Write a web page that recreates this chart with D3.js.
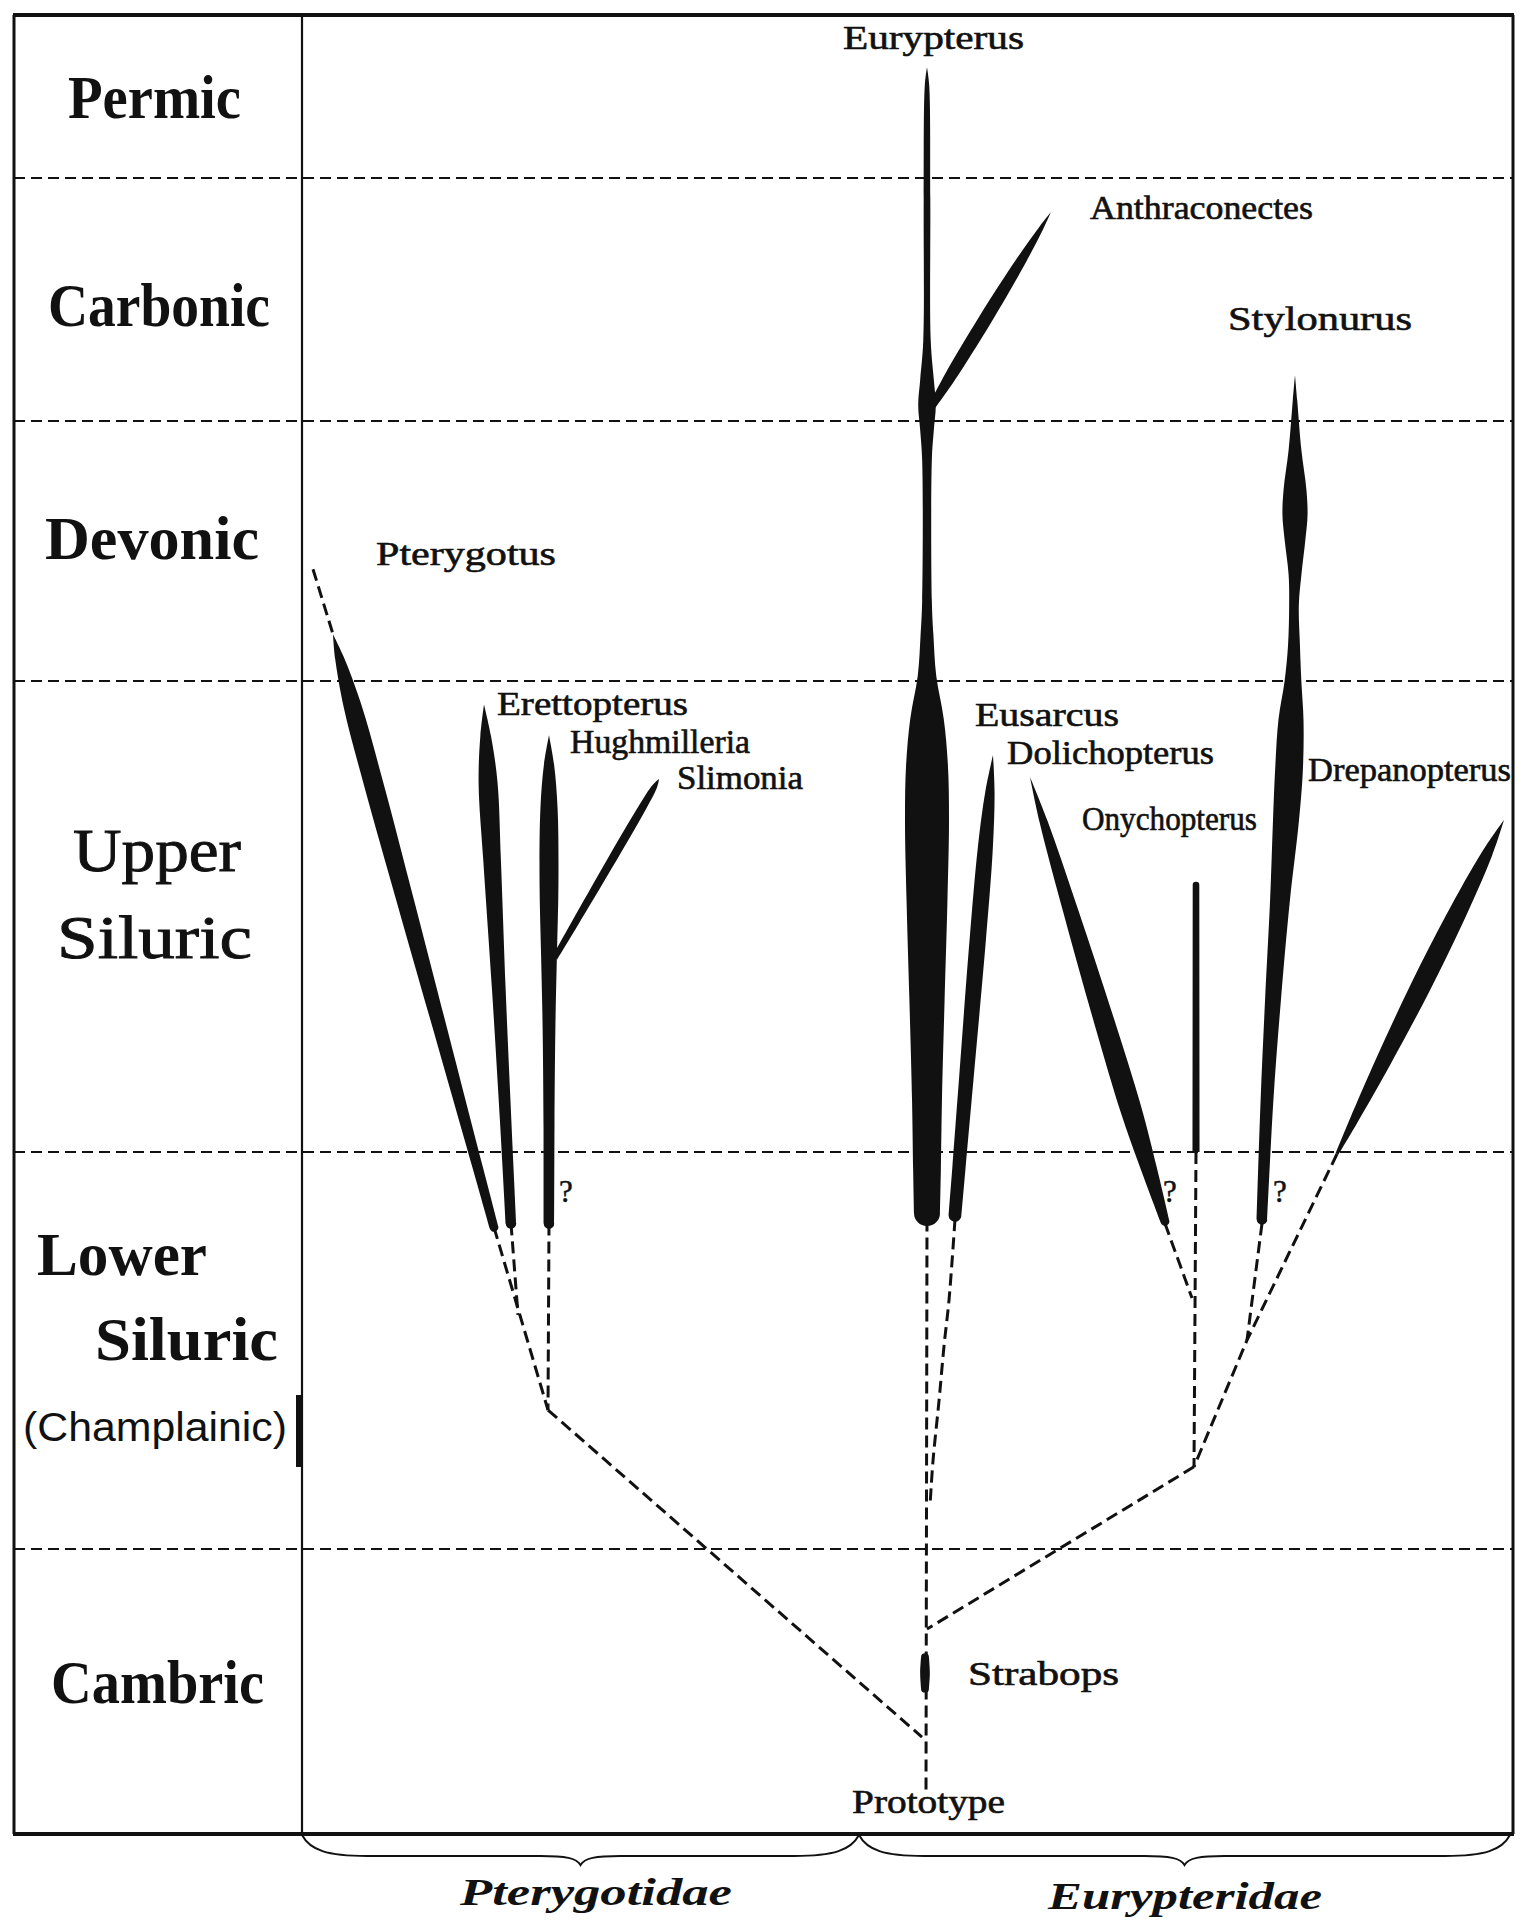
<!DOCTYPE html>
<html>
<head>
<meta charset="utf-8">
<script src="https://cdn.jsdelivr.net/npm/d3@7"></script>
<style>
  html, body { margin: 0; padding: 0; background: #fff; }
  svg { display: block; }
</style>
</head>
<body>
<svg id="chart" width="1522" height="1932"></svg>
<script>
// ------------------------------------------------------------------
// DATA  (x in lineage-position units, u in "period units": each
// geological period spans 100 units, 0 = base of Cambric)
// ------------------------------------------------------------------
const periodNames = ["Permic", "Carbonic", "Devonic", "Upper Siluric", "Lower Siluric", "Cambric"];
const periodNote = "(Champlainic)";
const periodTicks = [0, 100, 200, 300, 400, 500, 600];
const familyNames = ["Pterygotidae", "Eurypteridae"];
const familySpans = [[0, 557], [557, 1208]];

const genera = ["Eurypterus", "Anthraconectes", "Stylonurus", "Pterygotus", "Erettopterus",
  "Hughmilleria", "Slimonia", "Eusarcus", "Dolichopterus", "Onychopterus",
  "Drepanopterus", "Strabops", "Prototype"];

// straight spindles: axis from -> to, width profile [t, abundance]
const pterygotus    = { from: [31, 318],    to: [192, 181],   w: [[0,0],[0.04,2.0],[0.12,4.0],[0.25,4.4],[0.45,3.9],[0.7,3.0],[0.9,2.3],[1,2.0]], roundEnd: true };
const erettopterus  = { from: [182, 295],   to: [209, 182],   w: [[0,0],[0.06,2.4],[0.15,4.3],[0.3,4.0],[0.55,3.1],[0.8,2.6],[1,2.4]], roundEnd: true };
const hughmilleria  = { from: [247, 288.5], to: [247, 182],   w: [[0,0],[0.06,2.3],[0.15,3.9],[0.3,4.3],[0.45,3.6],[0.6,2.9],[0.8,2.5],[1,2.4]], roundEnd: true };
const slimonia      = { from: [357, 279.2], to: [253, 241.2], w: [[0,0],[0.05,1.3],[1,1.3]] };
const anthraconectes= { from: [630, 406],   to: [749, 486],   w: [[0,1.6],[0.15,2.6],[0.45,3.0],[0.75,2.2],[0.92,1.0],[1,0]] };
const eusarcus      = { from: [691, 284.3], to: [653, 184],   w: [[0,0],[0.08,2.1],[0.2,3.4],[0.4,3.7],[0.7,3.3],[0.9,3.0],[1,2.9]], roundEnd: true };
const dolichopterus = { from: [728, 279.6], to: [863, 182.5], w: [[0,0],[0.1,1.8],[0.3,3.4],[0.55,4.6],[0.75,4.8],[0.88,3.6],[1,2.0]], roundEnd: true };
const onychopterus  = { from: [894, 256.7], to: [894, 200],   w: [[0,1.5],[1,1.6]], roundStart: true };
const drepanopterus = { from: [1202, 270.5],to: [1035, 199.5],w: [[0,0],[0.1,2.4],[0.3,4.2],[0.5,4.5],[0.72,3.5],[0.9,1.9],[1,0.7]] };
const strabops      = { from: [623, 62],    to: [623, 51],    w: [[0,1.8],[0.5,2.2],[1,1.8]], roundStart: true, roundEnd: true };

// columns with changing centre: [x, u, abundance]
const eurypterusColumn = [
  [625,568,0],[625,557,1.0],[625,491,1.5],[625,433,1.7],[625,417,3.1],[625,406.6,4.0],
  [625,396.5,3.1],[625,385,2.2],[625,331,2.2],[625,318,2.9],[625,302,4.2],[625,292,7.6],
  [625,282.2,9.5],[625,270.5,10],[625,253.5,9.3],[625,232.3,8.0],[625,211,6.8],
  [625,195.5,6.3],[625,184.6,5.9]
];
const stylonurusColumn = [
  [993,418.9,0],[993,408.6,1.0],[993,388.8,2.9],[993,373.5,5.2],[993,363.8,5.7],
  [993,354.2,4.7],[993,340.8,2.9],[992,329.2,2.2],[992,313.8,2.7],[991,300,3.8],
  [989,291.7,5.7],[987,281.1,6.3],[984,270.5,5.9],[978,253.5,4.5],[971,232.3,3.6],
  [965,211,2.9],[960,183,2.4]
];

// inferred (dashed) connections
const dashedLinks = [
  [[11,343],[31,318]],
  [[192,181],[246,135]],
  [[209,182],[216,159]],
  [[247,182],[246,135]],
  [[246,135],[620,34]],
  [[625,183],[624,14]],
  [[863,182],[890,163.2]],
  [[894,200],[892,120.7]],
  [[960,182],[945,152.6]],
  [[1035,199.5],[945,152.6],[892,120.7]],
  [[892,120.7],[625,71.9]]
];
const eusarcusLink = [[653,183],[647,162.7],[642,151.1],[637,137.3],[631,122.2],[628,110.8]];
const queryMarks = ["?", "?", "?"];

// ------------------------------------------------------------------
// SCALES
// ------------------------------------------------------------------
const frame = { left: 14, right: 1513, top: 15, bottom: 1834, divider: 302 };
const xs = d3.scaleLinear().domain([0, 1211]).range([frame.divider, frame.right]);
const ys = d3.scaleLinear().domain(periodTicks).range([1834, 1549, 1152, 681, 421, 178, 15]);
const ws = d3.scaleLinear().domain([0, 10]).range([0, 44]);

const svg = d3.select("#chart");
const INK = "#111";
const SERIF = "'Liberation Serif', 'DejaVu Serif', serif";

svg.append("rect").attr("width", 1522).attr("height", 1932).attr("fill", "#fff");

// ------------------------------------------------------------------
// PERIOD GRID
// ------------------------------------------------------------------
svg.append("g").selectAll("line")
  .data(periodTicks.slice(1, 6))
  .join("line")
  .attr("x1", frame.left).attr("x2", frame.right)
  .attr("y1", d => ys(d)).attr("y2", d => ys(d))
  .attr("stroke", INK).attr("stroke-width", 2)
  .attr("stroke-dasharray", "11,6");

// frame
const fr = svg.append("g").attr("fill", "none").attr("stroke", INK);
fr.append("line").attr("x1", frame.left - 1).attr("x2", frame.right + 1).attr("y1", frame.top).attr("y2", frame.top).attr("stroke-width", 4);
fr.append("line").attr("x1", frame.left - 1).attr("x2", frame.right + 1).attr("y1", frame.bottom).attr("y2", frame.bottom).attr("stroke-width", 4);
fr.append("line").attr("x1", frame.left).attr("x2", frame.left).attr("y1", frame.top).attr("y2", frame.bottom).attr("stroke-width", 3);
fr.append("line").attr("x1", frame.right).attr("x2", frame.right).attr("y1", frame.top).attr("y2", frame.bottom).attr("stroke-width", 3);
fr.append("line").attr("x1", frame.divider).attr("x2", frame.divider).attr("y1", frame.top).attr("y2", frame.bottom).attr("stroke-width", 2.2);
svg.append("rect").attr("x", 296).attr("y", 1395).attr("width", 6).attr("height", 72).attr("fill", INK);

// ------------------------------------------------------------------
// PERIOD LABELS
// ------------------------------------------------------------------
const periodLayout = [
  { p: 0, line: 0, x: 68, y: 118, w: 173, weight: "bold" },
  { p: 1, line: 0, x: 48, y: 326, w: 222, weight: "bold" },
  { p: 2, line: 0, x: 45, y: 559, w: 214, weight: "bold" },
  { p: 3, line: 0, x: 73, y: 871, w: 168, weight: "normal" },
  { p: 3, line: 1, x: 57, y: 958, w: 195, weight: "normal" },
  { p: 4, line: 0, x: 37, y: 1275, w: 170, weight: "bold" },
  { p: 4, line: 1, x: 95, y: 1360, w: 183, weight: "bold" },
  { p: 5, line: 0, x: 51, y: 1703, w: 213, weight: "bold" }
];
svg.append("g").selectAll("text")
  .data(periodLayout)
  .join("text")
  .attr("x", d => d.x).attr("y", d => d.y)
  .attr("textLength", d => d.w).attr("lengthAdjust", "spacingAndGlyphs")
  .attr("font-family", SERIF).attr("font-size", 62)
  .attr("font-weight", d => d.weight).attr("fill", INK)
  .attr("stroke", INK).attr("stroke-width", d => d.weight === "bold" ? 0 : 0.9)
  .text(d => periodNames[d.p].split(" ")[d.line]);

svg.append("text")
  .attr("x", 23).attr("y", 1441)
  .attr("textLength", 264).attr("lengthAdjust", "spacingAndGlyphs")
  .attr("font-family", "'Liberation Sans', Arial, sans-serif")
  .attr("font-size", 40).attr("fill", INK)
  .text(periodNote);

// ------------------------------------------------------------------
// SPINDLES
// ------------------------------------------------------------------
const side = d3.line().curve(d3.curveCatmullRom.alpha(0.5));
const strip = s => s.replace(/^M[^CLZ]*/, "");

function outline(centers, roundStart, roundEnd) {
  const n = centers.length, L = [], R = [];
  centers.forEach((c, i) => {
    const a = centers[Math.max(0, i - 1)], b = centers[Math.min(n - 1, i + 1)];
    let dx = b.x - a.x, dy = b.y - a.y;
    const len = Math.hypot(dx, dy) || 1;
    dx /= len; dy /= len;
    const nx = -dy, ny = dx;
    L.push([c.x + nx * c.h, c.y + ny * c.h]);
    R.push([c.x - nx * c.h, c.y - ny * c.h]);
  });
  const h0 = centers[0].h, h1 = centers[n - 1].h;
  let d = "";
  if (roundStart && h0 > 0) d += `M${R[0]}A${h0},${h0} 0 0 0 ${L[0]}`;
  else d += `M${L[0]}`;
  d += strip(side(L));
  if (roundEnd && h1 > 0) d += `A${h1},${h1} 0 0 0 ${R[n - 1]}`;
  else d += `L${R[n - 1]}`;
  d += strip(side(R.slice().reverse()));
  return d + "Z";
}

function straightSpindle(s) {
  const x0 = xs(s.from[0]), y0 = ys(s.from[1]), x1 = xs(s.to[0]), y1 = ys(s.to[1]);
  const centers = s.w.map(([t, w]) => ({ x: x0 + t * (x1 - x0), y: y0 + t * (y1 - y0), h: ws(w) / 2 }));
  return outline(centers, s.roundStart, s.roundEnd);
}
function columnSpindle(col, roundEnd) {
  const centers = col.map(([x, u, w]) => ({ x: xs(x), y: ys(u), h: ws(w) / 2 }));
  return outline(centers, false, roundEnd);
}

// dashed links
const dashGen = d3.line().x(d => xs(d[0])).y(d => ys(d[1]));
const dashG = svg.append("g").attr("fill", "none").attr("stroke", INK)
  .attr("stroke-width", 3).attr("stroke-dasharray", "12,6");
dashG.selectAll("path").data(dashedLinks).join("path").attr("d", dashGen);
dashG.append("path").datum(eusarcusLink)
  .attr("d", d3.line().x(d => xs(d[0])).y(d => ys(d[1])).curve(d3.curveCatmullRom.alpha(0.5)));

const spG = svg.append("g").attr("fill", INK).attr("stroke", "none");
[pterygotus, erettopterus, hughmilleria, slimonia, anthraconectes, eusarcus,
 dolichopterus, onychopterus, drepanopterus, strabops].forEach(s => {
  spG.append("path").attr("d", straightSpindle(s));
});
spG.append("path").attr("d", columnSpindle(eurypterusColumn, true));
spG.append("path").attr("d", columnSpindle(stylonurusColumn, true));

// ------------------------------------------------------------------
// GENUS LABELS
// ------------------------------------------------------------------
const genusLayout = [
  [843, 49, 181], [1090, 219, 223], [1228, 330, 184], [376, 565, 180],
  [497, 715, 191], [570, 753, 180], [677, 789, 126], [975, 726, 144],
  [1007, 764, 207], [1082, 830, 175], [1308, 781, 203], [968, 1685, 151],
  [852, 1813, 153]
];
svg.append("g").selectAll("text")
  .data(genera)
  .join("text")
  .attr("x", (d, i) => genusLayout[i][0])
  .attr("y", (d, i) => genusLayout[i][1])
  .attr("textLength", (d, i) => genusLayout[i][2])
  .attr("lengthAdjust", "spacingAndGlyphs")
  .attr("font-family", SERIF).attr("font-size", 33).attr("fill", INK)
  .attr("stroke", INK).attr("stroke-width", 0.6)
  .text(d => d);

const qLayout = [[559, 1202], [1163, 1202], [1273, 1202]];
svg.append("g").selectAll("text")
  .data(queryMarks)
  .join("text")
  .attr("x", (d, i) => qLayout[i][0]).attr("y", (d, i) => qLayout[i][1])
  .attr("font-family", SERIF).attr("font-size", 31).attr("fill", INK)
  .attr("stroke", INK).attr("stroke-width", 0.5)
  .text(d => d);

// ------------------------------------------------------------------
// FAMILY BRACES
// ------------------------------------------------------------------
function bracePath(x0, x1, y0) {
  const xm = (x0 + x1) / 2, yb = y0 + 21, yc = y0 + 30, e = 40;
  return `M${x0},${y0}` +
    `C${x0 + 8},${y0 + 15} ${x0 + 25},${yb} ${x0 + e + 25},${yb}` +
    `L${xm - e},${yb}` +
    `C${xm - 15},${yb} ${xm - 4},${yb + 2} ${xm},${yc}` +
    `C${xm + 4},${yb + 2} ${xm + 15},${yb} ${xm + e},${yb}` +
    `L${x1 - e - 25},${yb}` +
    `C${x1 - 25},${yb} ${x1 - 8},${y0 + 15} ${x1},${y0}`;
}
svg.append("g").selectAll("path")
  .data(familySpans)
  .join("path")
  .attr("d", d => bracePath(xs(d[0]), xs(d[1]), frame.bottom + 1))
  .attr("fill", "none").attr("stroke", INK).attr("stroke-width", 2);

const familyLayout = [[596, 1905, 272], [1185, 1909, 274]];
svg.append("g").selectAll("text")
  .data(familyNames)
  .join("text")
  .attr("x", (d, i) => familyLayout[i][0] - familyLayout[i][2] / 2)
  .attr("y", (d, i) => familyLayout[i][1])
  .attr("textLength", (d, i) => familyLayout[i][2])
  .attr("lengthAdjust", "spacingAndGlyphs")
  .attr("font-family", SERIF).attr("font-size", 38)
  .attr("font-style", "italic").attr("font-weight", "bold").attr("fill", INK)
  .text(d => d);
</script>
</body>
</html>
